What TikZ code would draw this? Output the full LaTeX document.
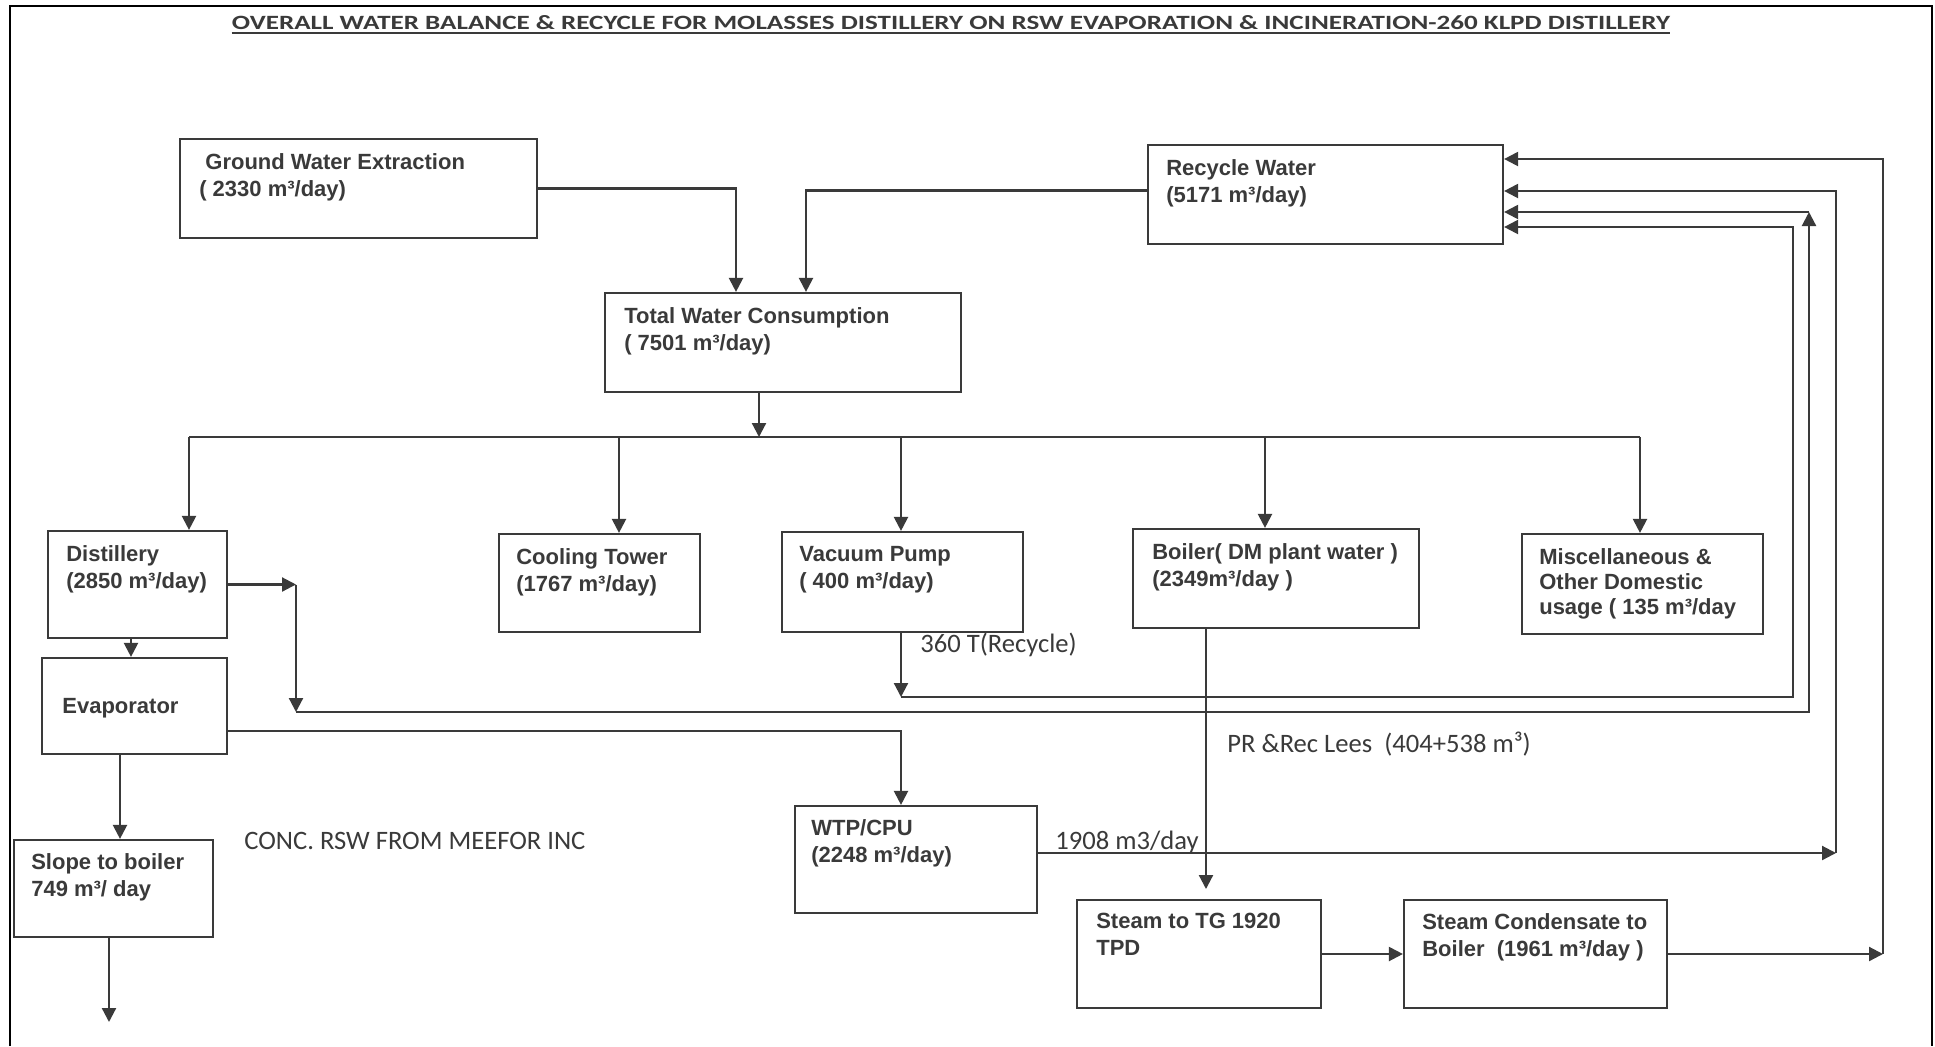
\documentclass[tikz,border=0pt]{standalone}
\usepackage{fontspec}
\setmainfont{Liberation Sans}
\newfontfamily\calfont{Carlito}
\usetikzlibrary{arrows.meta}
\definecolor{ink}{HTML}{3A3A3A}

\tikzset{
  box/.style={draw=ink, line width=1.1pt, inner sep=0pt},
  boxtext/.style={anchor=north west, inner sep=0pt, align=left, text=ink,
    font=\bfseries\fontsize{11}{13.5}\selectfont},
  flow/.style={draw=ink, line width=1.1pt, -{Triangle[length=7pt,width=7pt]}},
  pipe/.style={draw=ink, line width=1.1pt},
  note/.style={anchor=base west, inner sep=0pt, text=ink,
    font=\calfont\fontsize{13.3}{16}\selectfont},
}

\begin{document}
\begin{tikzpicture}[x=0.5pt, y=-0.5pt]
\useasboundingbox (0,0) rectangle (1935,1046);
\fill[white] (0,0) rectangle (1935,1046);

% 外框
\draw[line width=1.3pt] (10,1046) -- (10,6) -- (1932,6) -- (1932,1046);

% 标题
\node[inner sep=0pt, anchor=base, text=ink] (ttl) at (951,29)
  {\resizebox{719pt}{7pt}{\calfont\bfseries OVERALL WATER BALANCE \& RECYCLE FOR MOLASSES DISTILLERY ON RSW EVAPORATION \& INCINERATION-260 KLPD DISTILLERY}};
\draw[ink, line width=1pt] ([yshift=-2pt]ttl.base west) -- ([yshift=-2pt]ttl.base east);

% 方框
\node[box, minimum width=178.5pt, minimum height=49.5pt] (gw) at (358.5,188.5) {};
\node[box, minimum width=177.5pt, minimum height=49.5pt] (rw) at (1325.5,194.5) {};
\node[box, minimum width=178pt, minimum height=49.5pt] (twc) at (783,342.5) {};
\node[box, minimum width=89.5pt, minimum height=53.5pt] (dist) at (137.5,584.5) {};
\node[box, minimum width=100.5pt, minimum height=49pt] (ct) at (599.5,583) {};
\node[box, minimum width=120.5pt, minimum height=50pt] (vp) at (902.5,582) {};
\node[box, minimum width=143pt, minimum height=49.5pt] (blr) at (1276,578.5) {};
\node[box, minimum width=120.5pt, minimum height=50pt] (misc) at (1642.5,584) {};
\node[box, minimum width=92.5pt, minimum height=48pt] (evap) at (134.5,706) {};
\node[box, minimum width=99.5pt, minimum height=48.5pt] (slope) at (113.5,888.5) {};
\node[box, minimum width=121pt, minimum height=53.5pt] (wtp) at (916,859.5) {};
\node[box, minimum width=122pt, minimum height=54pt] (steam) at (1199,954) {};
\node[box, minimum width=131.5pt, minimum height=54pt] (cond) at (1535.5,954) {};

% 方框文字
\node[boxtext] (gwt) at ([xshift=10pt,yshift=-7.5pt]gw.north west) {\ Ground Water Extraction\\( 2330 m³/day)};
\node[boxtext] (rwt) at ([xshift=9.5pt,yshift=-7.5pt]rw.north west) {Recycle Water\\(5171 m³/day)};
\node[boxtext] (twct) at ([xshift=10pt,yshift=-7.5pt]twc.north west) {Total Water Consumption\\( 7501 m³/day)};
\node[boxtext] (distt) at ([xshift=9.5pt,yshift=-7.5pt]dist.north west) {Distillery\\(2850 m³/day)};
\node[boxtext] (ctt) at ([xshift=9pt,yshift=-7.5pt]ct.north west) {Cooling Tower\\(1767 m³/day)};
\node[boxtext] (vpt) at ([xshift=9pt,yshift=-7.5pt]vp.north west) {Vacuum Pump\\( 400 m³/day)};
\node[boxtext] (blrt) at ([xshift=10pt,yshift=-7.5pt]blr.north west) {Boiler( DM plant water )\\(2349m³/day )};
\node[boxtext, font=\bfseries\fontsize{11}{12.5}\selectfont] (misct) at ([xshift=9pt,yshift=-7.5pt]misc.north west) {Miscellaneous \&\\Other Domestic\\usage ( 135 m³/day};
\node[boxtext, anchor=base west] (evapt) at (62,713) {Evaporator};
\node[boxtext] (slopet) at ([xshift=9pt,yshift=-7pt]slope.north west) {Slope to boiler\\749 m³/ day};
\node[boxtext] (wtpt) at ([xshift=8.5pt,yshift=-7pt]wtp.north west) {WTP/CPU\\(2248 m³/day)};
\node[boxtext] (steamt) at ([xshift=10pt,yshift=-7pt]steam.north west) {Steam to TG 1920\\TPD};
\node[boxtext] (condt) at ([xshift=9.5pt,yshift=-7pt]cond.north west) {Steam Condensate to\\Boiler\ \ (1961 m³/day )};

% 供水
\draw[flow] (gw.east) -| ([xshift=-23.5pt]twc.north);
\draw[flow] ([yshift=2pt]rw.west) -| ([xshift=11.5pt]twc.north);

% 分配
\coordinate (busL) at (189,437);
\coordinate (busR) at (1640,437);
\coordinate (tw) at ([xshift=-12pt]twc.south);
\draw[pipe] (busL) -- (busR);
\draw[flow] (tw) -- (tw |- busL);
\foreach \n/\x in {dist/189, ct/619, vp/901, blr/1265, misc/1640} {
  \coordinate (tap) at (\x,437);
  \draw[flow] (tap) -- (tap |- \n.north);
}

% 蒸馏 -> 蒸发 -> 锅炉
\coordinate (de) at ([xshift=-3.25pt]dist.south);
\draw[flow] (de) -- (de |- evap.north);
\coordinate (es) at ([xshift=-7.25pt]evap.south);
\draw[flow] (es) -- (es |- slope.north);
\coordinate (sb) at ([xshift=-2.25pt]slope.south);
\coordinate (sout) at (109,1022);
\draw[flow] (sb) -- (sout);

% 回用水管线
\coordinate (dk) at (296,712);
\coordinate (r3) at (1809,212);
\draw[flow] (dist.east) -- (dist.east -| dk);
\draw[flow] (dist.east -| dk) -- (dk);
\draw[flow] (dk) -| (r3);
\draw[flow] (r3) -- (r3 -| rw.east);

\coordinate (vk) at (901,697);
\coordinate (r4) at (1793,227);
\draw[flow] (vk |- vp.south) -- (vk);
\draw[flow] (vk) -| (r4) -- (r4 -| rw.east);
\node[note] (rec) at (920,652) {360 T(Recycle)};

\coordinate (ew) at (901,731);
\draw[flow] (evap.east |- ew) -- (ew) -- (ew |- wtp.north);

\coordinate (r2) at (1836,853);
\coordinate (r2t) at (1836,191);
\draw[flow] (wtp.east |- r2) -- (r2);
\draw[flow] (r2) -- (r2t) -- (r2t -| rw.east);
\node[note] (wtpq) at (1055,849) {1908 m3/day};

\coordinate (bs) at (1206,889);
\draw[flow] (bs |- blr.south) -- (bs);
\node[note] (lees) at (1227,752) {PR \&Rec Lees\ \ (404+538 m³)};

\draw[flow] (steam.east) -- (cond.west);
\coordinate (r1) at (1883,954);
\coordinate (r1t) at (1883,159);
\draw[flow] (cond.east) -- (r1);
\draw[flow] (r1) -- (r1t) -- (r1t -| rw.east);

\node[note] (conc) at (244,849) {CONC. RSW FROM MEEFOR INC};

\end{tikzpicture}
\end{document}
